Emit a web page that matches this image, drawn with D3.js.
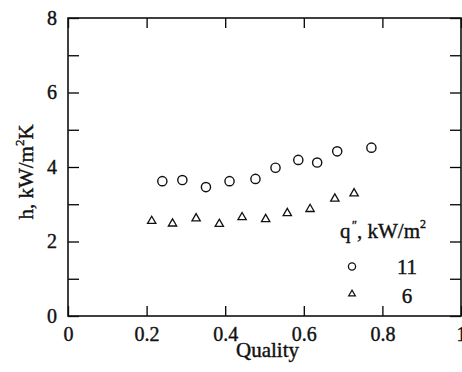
<!DOCTYPE html>
<html>
<head>
<meta charset="utf-8">
<script src="https://cdn.jsdelivr.net/npm/d3@7"></script>
<style>
  body { margin: 0; background: #fff; }
</style>
</head>
<body>
<div id="chart"></div>
<script>
// Data
const quality11 = [0.240, 0.291, 0.351, 0.411, 0.477, 0.528, 0.586, 0.634, 0.685, 0.772];
const h11       = [3.62, 3.65, 3.46, 3.62, 3.68, 3.98, 4.19, 4.12, 4.42, 4.52];
const quality6  = [0.213, 0.266, 0.326, 0.385, 0.443, 0.503, 0.558, 0.616, 0.679, 0.728];
const h6        = [2.55, 2.48, 2.62, 2.47, 2.65, 2.60, 2.76, 2.87, 3.15, 3.29];
const xTicks = [0, 0.2, 0.4, 0.6, 0.8, 1];
const yTicks = [0, 1, 2, 3, 4, 5, 6, 7, 8];
const legendLabels = ["11", "6"];

const width = 462,
      height = 372;
const margin = { top: 18, right: 1, bottom: 56, left: 68 };
const serif = "Liberation Serif";

const svg = d3.select("#chart").append("svg")
    .attr("width", width)
    .attr("height", height);

const x = d3.scaleLinear().domain([0, 1]).range([margin.left, width - margin.right]);
const y = d3.scaleLinear().domain([0, 8]).range([height - margin.bottom, margin.top]);

// Bottom axis, ticks pointing inward
const xAxis = svg.append("g")
    .attr("transform", `translate(0,${y(0)})`)
    .call(d3.axisBottom(x).tickValues(xTicks).tickSize(-10).tickPadding(8)
        .tickFormat(d3.format("~g")));
xAxis.select(".domain").remove();
xAxis.selectAll("text").style("font-size", "20px").attr("dy", "0.85em");
xAxis.selectAll("line").attr("stroke-width", 1.3);

// Top axis, ticks only
const xTop = svg.append("g")
    .attr("transform", `translate(0,${y(8)})`)
    .call(d3.axisTop(x).tickValues(xTicks).tickSize(-10).tickFormat(""));
xTop.select(".domain").remove();
xTop.selectAll("line").attr("stroke-width", 1.3);

// Left axis, labels on even values
const yAxis = svg.append("g")
    .attr("transform", `translate(${x(0)},0)`)
    .call(d3.axisLeft(y).tickValues(yTicks).tickSize(-11).tickPadding(11)
        .tickFormat(d => d % 2 === 0 ? d : ""));
yAxis.select(".domain").remove();
yAxis.selectAll("text").style("font-size", "20px");
yAxis.selectAll("line").attr("stroke-width", 1.3);

// Right axis, ticks only
const yRight = svg.append("g")
    .attr("transform", `translate(${x(1)},0)`)
    .call(d3.axisRight(y).tickValues(yTicks).tickSize(-11).tickFormat(""));
yRight.select(".domain").remove();
yRight.selectAll("line").attr("stroke-width", 1.3);

// Frame
svg.append("rect")
    .attr("x", x(0))
    .attr("y", y(8))
    .attr("width", x(1) - x(0))
    .attr("height", y(0) - y(8))
    .style("fill", "none")
    .style("stroke", "#111")
    .style("stroke-width", 1.6);

// Axis titles
svg.append("text")
    .attr("x", (x(0) + x(1)) / 2 + 3)
    .attr("y", 357)
    .attr("text-anchor", "middle")
    .style("font-size", "21px")
    .text("Quality");

const yTitle = svg.append("text")
    .attr("transform", `translate(33,${(y(0) + y(8)) / 2 + 5}) rotate(-90)`)
    .attr("text-anchor", "middle")
    .style("font-size", "21px");
yTitle.append("tspan").text("h, kW/m");
yTitle.append("tspan").attr("dy", -9).style("font-size", "13px").text("2");
yTitle.append("tspan").attr("dy", 9).text("K");

// Data markers
const tri = d3.symbol().type(d3.symbolTriangle);

svg.append("g")
    .selectAll("circle")
    .data(quality11.map((q, i) => [q, h11[i]]))
    .enter().append("circle")
    .attr("cx", d => x(d[0]))
    .attr("cy", d => y(d[1]))
    .attr("r", 4.6)
    .style("fill", "none")
    .style("stroke", "#111")
    .style("stroke-width", 1.4);

svg.append("g")
    .selectAll("path")
    .data(quality6.map((q, i) => [q, h6[i]]))
    .enter().append("path")
    .attr("d", tri.size(30)())
    .attr("transform", d => `translate(${x(d[0])},${y(d[1])})`)
    .style("fill", "none")
    .style("stroke", "#111")
    .style("stroke-width", 1.3);

// Legend
const legend = svg.append("g").attr("class", "legend");

legend.append("text")
    .attr("x", 340)
    .attr("y", 238)
    .style("font-size", "21px")
    .text("q");
legend.append("text")
    .attr("x", 352)
    .attr("y", 229)
    .style("font-size", "12px")
    .text("\u2033");
const unit = legend.append("text")
    .attr("x", 357)
    .attr("y", 238)
    .style("font-size", "21px");
unit.append("tspan").text(", kW/m");
unit.append("tspan").attr("dy", -10).style("font-size", "12px").text("2");

legend.append("circle")
    .attr("cx", 352)
    .attr("cy", 266.5)
    .attr("r", 3.6)
    .style("fill", "none")
    .style("stroke", "#111")
    .style("stroke-width", 1.3);
legend.append("path")
    .attr("d", tri.size(20)())
    .attr("transform", "translate(352,294)")
    .style("fill", "none")
    .style("stroke", "#111")
    .style("stroke-width", 1.2);

legend.selectAll(".lab")
    .data(legendLabels)
    .enter().append("text")
    .attr("class", "lab")
    .attr("x", 407)
    .attr("y", (d, i) => 274 + i * 29)
    .attr("text-anchor", "middle")
    .style("font-size", "21px")
    .text(d => d);

// Serif face on every text, set last so nothing overrides it;
// a thin stroke thickens the glyphs like the printed original
svg.selectAll("text")
    .style("font-family", serif)
    .style("fill", "#111")
    .style("stroke", "#111")
    .style("stroke-width", 0.4);
</script>
</body>
</html>
